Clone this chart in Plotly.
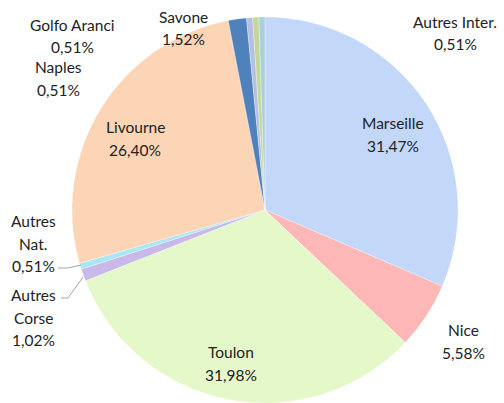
import plotly.graph_objects as go

# Data
labels = ["Marseille", "Nice", "Toulon", "Autres Corse", "Autres Nat.",
          "Livourne", "Savone", "Naples", "Golfo Aranci", "Autres Inter."]
display_lines = [["Marseille"], ["Nice"], ["Toulon"], ["Autres", "Corse"], ["Autres", "Nat."],
                 ["Livourne"], ["Savone"], ["Naples"], ["Golfo Aranci"], ["Autres Inter."]]
values = [31.47, 5.58, 31.98, 1.02, 0.51, 26.40, 1.52, 0.51, 0.51, 0.51]

# Styles
colors = ["#c3d7f8", "#fdb7b7", "#e5f8c9", "#c9b9e8", "#a9e7f7",
          "#fbd5b5", "#4f81bd", "#b3c0e0", "#c3d69b", "#a9d0dc"]
# label block centers in pixels (x, y of first line)
label_pos = [(393, 123), (463, 330), (231, 352), (33, 295), (33, 221),
             (135, 127), (183, 17), (58, 67), (72, 25), (455, 22)]

W, H = 504, 403
LINE = 22.5

fig = go.Figure(go.Pie(
    labels=labels, values=values, sort=False, direction="clockwise", rotation=0,
    marker=dict(colors=colors, line=dict(color="rgba(255,255,255,0.6)", width=0.5)),
    textinfo="none", showlegend=False,
    domain=dict(x=[72 / W, 458 / W], y=[0, 1 - 17 / H]),
))

annotations = []
for lines, v, (px, py) in zip(display_lines, values, label_pos):
    all_lines = lines + [f"{v:.2f}".replace(".", ",") + "%"]
    for i, t in enumerate(all_lines):
        annotations.append(dict(
            x=px / W, y=1 - (py + i * LINE) / H, xref="paper", yref="paper",
            text=t, showarrow=False, xanchor="center", yanchor="middle",
            font=dict(family="Lato, Open Sans, sans-serif", size=15.5, color="#222222")))

shapes = [
    dict(type="path", path=f"M {58/W},{1-268/H} L {68/W},{1-268/H} L {81/W},{1-265/H}",
         xref="paper", yref="paper", line=dict(color="#a6a6a6", width=1)),
    dict(type="path", path=f"M {61/W},{1-298/H} L {68/W},{1-298/H} L {83/W},{1-277/H}",
         xref="paper", yref="paper", line=dict(color="#a6a6a6", width=1)),
]

fig.update_layout(width=W, height=H, margin=dict(l=0, r=0, t=0, b=0),
                  paper_bgcolor="white", plot_bgcolor="white",
                  annotations=annotations, shapes=shapes)
fig.write_html("out.html", config={"displayModeBar": False},
               post_script="document.body.style.margin='0';document.body.style.overflow='hidden';")
